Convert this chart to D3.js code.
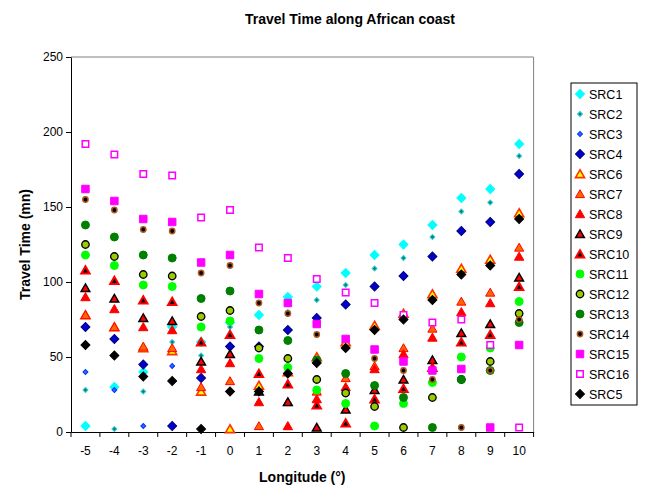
<!DOCTYPE html>
<html>
<head>
<meta charset="utf-8">
<script src="https://cdn.jsdelivr.net/npm/d3@7"></script>
<style>
  body { margin: 0; background: #fff; }
  text { font-family: Arial, "Liberation Sans", sans-serif; }
</style>
</head>
<body>
<svg id="chart" width="651" height="488"></svg>
<script>
// longitudes along the coast
const longitudes = [-5, -4, -3, -2, -1, 0, 1, 2, 3, 4, 5, 6, 7, 8, 9, 10];

// travel time (mn) per source, one value per longitude
const src1 = [4, 30, 40, 70, 60, 73, 78, 90, 97, 106, 118, 125, 138, 156, 162, 192];
const src2 = [28, 2, 27, 60, 51, 70, 68, 80, 88, 98, 109, 116, 130, 147, 153, 184];
const src3 = [40, 28, 4, 44, 36, 57, 57, 68, 76, 85, 97, 104, 117, 134, 140, 172];
const src4 = [70, 62, 45, 4, 36, 57, 57, 68, 76, 85, 97, 104, 117, 134, 140, 172];
const src6 = [78, 70, 56, 54, 27, 2, 31, 40, 50, 60, 71, 79, 92, 109, 115, 146];
const src7 = [78, 70, 57, 56, 30, 34, 4, 20, 27, 36, 44, 56, 69, 87, 93, 123];
const src8 = [90, 82, 70, 68, 42, 46, 20, 4, 22, 30, 42, 52, 63, 80, 86, 117];
const src9 = [96, 89, 76, 74, 47, 52, 27, 20, 3, 15, 28, 35, 48, 66, 72, 103];
const src10 = [108, 101, 88, 87, 60, 65, 39, 32, 18, 6, 22, 29, 43, 60, 65, 97];
const src11 = [118, 111, 98, 97, 70, 74, 49, 43, 28, 19, 4, 19, 33, 50, 56, 87];
const src12 = [125, 117, 105, 104, 77, 81, 56, 49, 35, 26, 17, 3, 23, 35, 47, 79];
const src13 = [138, 130, 118, 116, 89, 94, 68, 61, 48, 39, 31, 23, 3, 35, 41, 73];
const src14 = [155, 148, 135, 134, 106, 111, 86, 79, 65, 56, 49, 41, 35, 3, 41, 75];
const src15 = [162, 154, 142, 140, 113, 118, 92, 86, 72, 62, 55, 47, 41, 42, 3, 58];
const src16 = [192, 185, 172, 171, 143, 148, 123, 116, 102, 93, 86, 78, 73, 75, 58, 3];
const src5 = [58, 51, 37, 34, 2, 27, 27, 39, 46, 56, 68, 75, 88, 105, 111, 142];

const yTicks = [0, 50, 100, 150, 200, 250];

const series = [
    { name: "SRC1", values: src1 },
    { name: "SRC2", values: src2 },
    { name: "SRC3", values: src3 },
    { name: "SRC4", values: src4 },
    { name: "SRC6", values: src6 },
    { name: "SRC7", values: src7 },
    { name: "SRC8", values: src8 },
    { name: "SRC9", values: src9 },
    { name: "SRC10", values: src10 },
    { name: "SRC11", values: src11 },
    { name: "SRC12", values: src12 },
    { name: "SRC13", values: src13 },
    { name: "SRC14", values: src14 },
    { name: "SRC15", values: src15 },
    { name: "SRC16", values: src16 },
    { name: "SRC5", values: src5 }
];

// marker look per series (excel-ish)
const markers = {
    SRC1: { type: "diamond", size: 40, fill: "#00ffff", stroke: "#00ffff", sw: 1 },
    SRC2: { type: "diamond", size: 12, fill: "#008080", stroke: "#33cccc", sw: 1 },
    SRC3: { type: "diamond", size: 12, fill: "#3366ff", stroke: "#0033ff", sw: 1 },
    SRC4: { type: "diamond", size: 40, fill: "#0000cc", stroke: "#000080", sw: 1 },
    SRC6: { type: "triangle", size: 36, fill: "#ffff00", stroke: "#ff3300", sw: 1.6 },
    SRC7: { type: "triangle", size: 36, fill: "#ff6600", stroke: "#ff0000", sw: 1 },
    SRC8: { type: "triangle", size: 38, fill: "#ff0000", stroke: "#ff0000", sw: 1 },
    SRC9: { type: "triangle", size: 34, fill: "#ff0000", stroke: "#000000", sw: 1.4 },
    SRC10: { type: "triangle", size: 30, fill: "#000000", stroke: "#ff0000", sw: 2 },
    SRC11: { type: "circle", size: 50, fill: "#00ff00", stroke: "#00ff00", sw: 1 },
    SRC12: { type: "circle", size: 44, fill: "#99cc00", stroke: "#000000", sw: 1.3 },
    SRC13: { type: "circle", size: 50, fill: "#008000", stroke: "#008000", sw: 1 },
    SRC14: { type: "circle", size: 22, fill: "#000000", stroke: "#b05a20", sw: 1.5 },
    SRC15: { type: "square", size: 56, fill: "#ff00ff", stroke: "#ff00ff", sw: 1 },
    SRC16: { type: "square", size: 42, fill: "#ffffff", stroke: "#ff00ff", sw: 1.5 },
    SRC5: { type: "diamond", size: 40, fill: "#000000", stroke: "#000000", sw: 1 }
};

const svg = d3.select("#chart");

const margin = { left: 71, right: 533.6, top: 57, bottom: 432 };

const x = d3.scaleBand().
domain(longitudes).
range([margin.left, margin.right]).
padding(0);

const y = d3.scaleLinear().
domain([0, 250]).
range([margin.bottom, margin.top]);

function symbolPath(m) {
    const t = m.type === "circle" ? d3.symbolCircle :
        m.type === "triangle" ? d3.symbolTriangle : d3.symbolSquare;
    return d3.symbol().type(t).size(m.size)();
}

function markerTransform(m, cx, cy) {
    if (m.type === "diamond") return `translate(${cx},${cy}) rotate(45)`;
    if (m.type === "triangle") return `translate(${cx},${cy + 1})`;
    return `translate(${cx},${cy})`;
}

// plot frame: gray top/right, black axes
svg.append("line").
attr("x1", margin.left).attr("x2", margin.right).
attr("y1", margin.top).attr("y2", margin.top).
attr("stroke", "#808080").attr("stroke-width", 1);
svg.append("line").
attr("x1", margin.right).attr("x2", margin.right).
attr("y1", margin.top).attr("y2", margin.bottom).
attr("stroke", "#808080").attr("stroke-width", 1);

// y axis
const yAxis = svg.append("g").
attr("transform", `translate(${margin.left},0)`).
call(d3.axisLeft(y).tickValues(yTicks).tickSize(5).tickSizeOuter(0));
yAxis.select(".domain").attr("stroke", "#000");
yAxis.selectAll("text").
attr("font-size", 12).
attr("font-family", "Arial, 'Liberation Sans', sans-serif").
attr("fill", "#000").
attr("x", -8);

// x axis: labels centred in each band, ticks between bands
const xAxis = svg.append("g").
attr("transform", `translate(0,${margin.bottom})`).
call(d3.axisBottom(x).tickSize(0).tickPadding(14).tickSizeOuter(0));
xAxis.select(".domain").attr("stroke", "#000");
xAxis.selectAll("text").
attr("font-size", 12).
attr("font-family", "Arial, 'Liberation Sans', sans-serif").
attr("fill", "#000");

svg.append("g").
selectAll("line").
data(longitudes.concat(["end"])).
join("line").
attr("x1", d => d === "end" ? x.range()[1] : x(d)).
attr("x2", d => d === "end" ? x.range()[1] : x(d)).
attr("y1", margin.bottom).
attr("y2", margin.bottom + 5).
attr("stroke", "#000");

// points
const groups = svg.append("g").
selectAll("g").
data(series).
join("g");

groups.selectAll("path").
data(s => s.values.map((v, i) => ({ name: s.name, lon: longitudes[i], v }))).
join("path").
attr("d", d => symbolPath(markers[d.name])).
attr("transform", d => markerTransform(markers[d.name], x(d.lon) + x.bandwidth() / 2, y(d.v))).
attr("fill", d => markers[d.name].fill).
attr("stroke", d => markers[d.name].stroke).
attr("stroke-width", d => markers[d.name].sw);

// titles
svg.append("text").
attr("x", 350).
attr("y", 24).
attr("text-anchor", "middle").
style("font-weight", "bold").
style("font-size", "14px").
text("Travel Time along African coast");

svg.append("text").
attr("transform", `translate(${x.range()[0] + (x.range()[1] - x.range()[0]) / 2},${482})`).
attr("text-anchor", "middle").
style("font-weight", "bold").
style("font-size", "14px").
text("Longitude (°)");

svg.append("text").
attr("transform", `translate(30,${(margin.top + margin.bottom) / 2}) rotate(-90)`).
attr("text-anchor", "middle").
style("font-weight", "bold").
style("font-size", "14px").
text("Travel Time (mn)");

// legend
const legend = svg.append("g").attr("transform", "translate(571,83)");
legend.append("rect").
attr("width", 66).
attr("height", 322).
attr("fill", "#fff").
attr("stroke", "#000").
attr("stroke-width", 1);

const items = legend.selectAll("g.item").
data(series).
join("g").
attr("class", "item").
attr("transform", (d, i) => `translate(0,${11 + i * 20})`);

items.append("path").
attr("d", d => symbolPath(markers[d.name])).
attr("transform", d => markerTransform(markers[d.name], 9, 0)).
attr("fill", d => markers[d.name].fill).
attr("stroke", d => markers[d.name].stroke).
attr("stroke-width", d => markers[d.name].sw);

items.append("text").
attr("x", 18).
attr("y", 4.5).
style("font-size", "12.5px").
text(d => d.name);
</script>
</body>
</html>
